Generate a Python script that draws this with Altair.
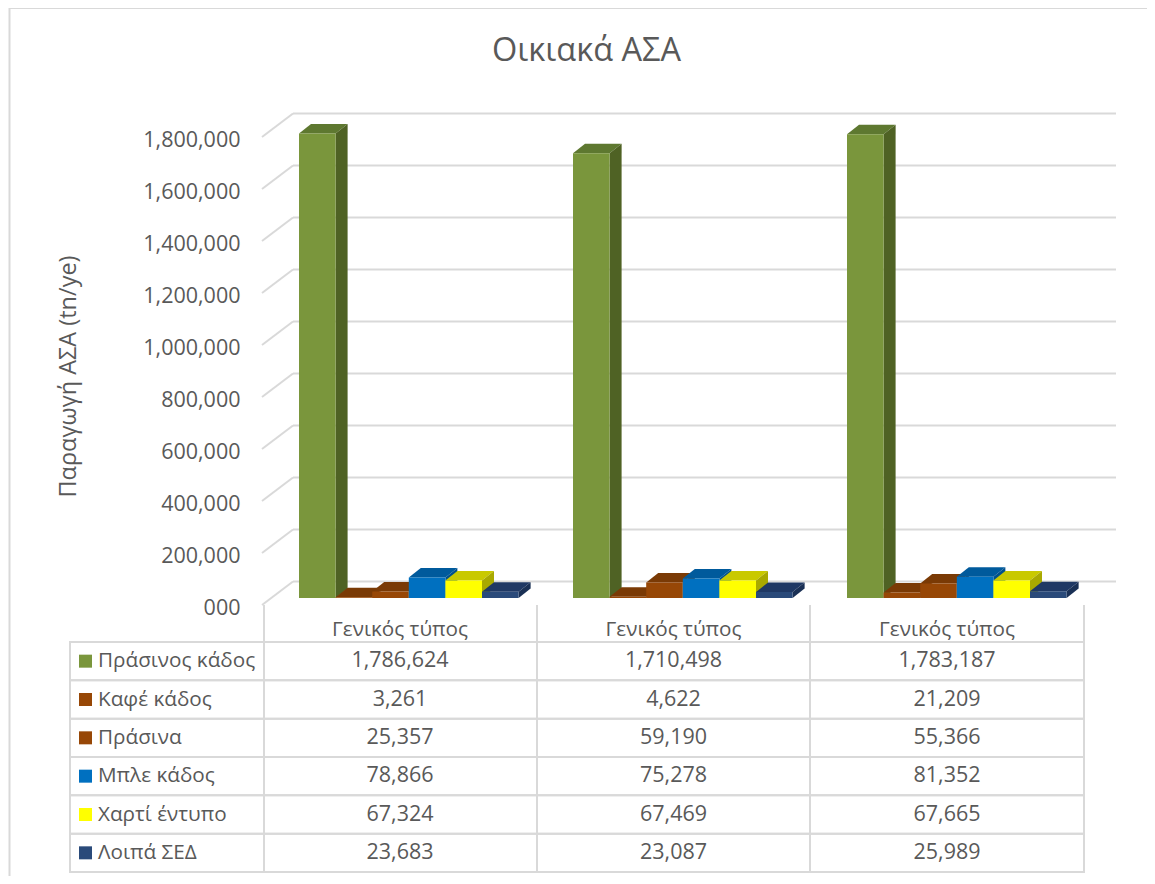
import altair as alt
import pandas as pd

# ---- chart values ----
TITLE = "Οικιακά ΑΣΑ"
Y_TITLE = "Παραγωγή ΑΣΑ (tn/ye)"
GROUPS = ["Γενικός τύπος", "Γενικός τύπος", "Γενικός τύπος"]
SERIES = ["Πράσινος κάδος", "Καφέ κάδος", "Πράσινα", "Μπλε κάδος", "Χαρτί έντυπο", "Λοιπά ΣΕΔ"]
S1 = [1786624, 1710498, 1783187]
S2 = [3261, 4622, 21209]
S3 = [25357, 59190, 55366]
S4 = [78866, 75278, 81352]
S5 = [67324, 67469, 67665]
S6 = [23683, 23087, 25989]
VALUES = [S1, S2, S3, S4, S5, S6]
Y_TICKS = [0, 200000, 400000, 600000, 800000, 1000000, 1200000, 1400000, 1600000, 1800000]
FRONT = ["#7a963c", "#974706", "#974706", "#0070c0", "#ffff00", "#2a4a7a"]
TOP = ["#5e7830", "#7a3a05", "#7a3a05", "#005a9c", "#c9c900", "#1f3864"]
SIDE = ["#4f6224", "#6a3204", "#6a3204", "#00508c", "#a9a900", "#1a3055"]
GRID = "#d9d9d9"
TEXT = "#595959"
FONT = "Open Sans"
FS = 20.7
NUM_FS = 21.5

# ---- scale set-up (plot coordinates are page minus 8px margin) ----
W, H = 1139, 868
UNIT = 36.6                        # one bar slot
GROUP_STEP = 274 / UNIT            # slots between groups
DX = 12 / UNIT                     # bar depth, in slots
PER_PX = 200000 / 52               # value units per pixel
DY = 9.5 * PER_PX                  # bar depth, in value units
BASE = 7 * PER_PX                  # bars stand this far behind the axis plane
WALL_DY = 23.5 * PER_PX
x_scale = alt.Scale(domain=[0, 1], range=[291, 291 + UNIT])
y_scale = alt.Scale(domain=[0, 1800000], range=[597, 597 - 1800000 / PER_PX])

front_rows, poly_rows = [], []
for g in range(3):
    for s, name in enumerate(SERIES):
        v = VALUES[s][g]
        x0 = g * GROUP_STEP + s
        x1 = x0 + 1
        front_rows.append(dict(series=name, group=g, value=v + BASE, x0=x0, x1=x1, base=BASE, fill=FRONT[s]))
        pid = f"{g}-{s}"
        u = v + BASE
        for x, t, b in [(x0, u, u), (x0 + DX, u + DY, u), (x1, u + DY, u), (x1 + DX, u + DY, u + DY)]:
            poly_rows.append(dict(poly=pid + "t", x=x, upper=t, lower=b, fill=TOP[s]))
        for x, t, b in [(x1, u, BASE), (x1 + DX, u + DY, BASE + DY)]:
            poly_rows.append(dict(poly=pid + "s", x=x, upper=t, lower=b, fill=SIDE[s]))
front = pd.DataFrame(front_rows)
polys = pd.DataFrame(poly_rows)

WALL_X0 = (262 - 299) / UNIT
WALL_X1 = (293 - 299) / UNIT
diag = pd.DataFrame(
    [dict(t=t, x=WALL_X0, y=t) for t in Y_TICKS] + [dict(t=t, x=WALL_X1, y=t + WALL_DY) for t in Y_TICKS]
)
ticks = pd.DataFrame({"t": Y_TICKS, "y": [t + WALL_DY for t in Y_TICKS]})

X = lambda f: alt.X(f, type="quantitative", scale=x_scale, axis=None)
Y = lambda f: alt.Y(f, type="quantitative", scale=y_scale, axis=None)
C = alt.Color("fill:N", scale=None)

y_axis = alt.Axis(
    values=Y_TICKS, grid=False, domain=False, ticks=False, offset=-232, labelPadding=0, labelOffset=3,
    labelFontSize=NUM_FS, labelFont=FONT, labelColor=TEXT,
    labelExpr="datum.value == 0 ? '000' : format(datum.value, ',')",
    title=Y_TITLE, titleFontSize=23.5, titleFont=FONT, titleColor=TEXT, titleFontWeight="normal",
    titleAngle=270, titleX=-172, titleY=368, titleAlign="center", titleBaseline="middle",
)
back_grid = alt.Chart(ticks).mark_rule(color=GRID, strokeWidth=2).encode(
    x=alt.value(285), x2=alt.value(1108),
    y=alt.Y("y:Q", scale=y_scale, axis=None),
)
wall = alt.Chart(diag).mark_line(color=GRID, strokeWidth=2).encode(x=X("x"), y=Y("y"), detail="t:N")
axis_layer = alt.Chart(pd.DataFrame({"t": Y_TICKS})).mark_point(opacity=0).encode(
    y=alt.Y("t:Q", scale=y_scale, axis=y_axis), x=alt.value(0)
)
faces = alt.Chart(polys).mark_area(opacity=1).encode(
    x=X("x"), y=Y("upper"), y2=alt.Y2("lower"), detail="poly:N", color=C,
)
bars = alt.Chart(front).mark_bar().encode(
    x=X("x0"), x2=alt.X2("x1"), y=Y("value"), y2=alt.Y2("base"), color=C,
)
plot = alt.layer(back_grid, wall, axis_layer, faces, bars).resolve_axis(y="independent")

# ---- data table under the plot ----
COLS = ["c1", "c2", "c3"]
col_scale = alt.Scale(type="point", domain=COLS, range=[392, 939], padding=0)
row_scale = alt.Scale(domain=SERIES, range=[634, 864], paddingInner=0, paddingOuter=0)
cells = pd.DataFrame(
    [dict(row=s, col=COLS[g], text=f"{VALUES[i][g]:,}") for i, s in enumerate(SERIES) for g in range(3)]
)
heads = pd.DataFrame({"col": COLS, "text": GROUPS})
rows = pd.DataFrame({"row": SERIES, "fill": FRONT})
verts = pd.DataFrame({"xp": [256, 529, 802, 1076]})

row_y = alt.Y("row:N", scale=row_scale, axis=None)
col_x = alt.X("col:N", scale=col_scale, axis=None)

row_boxes = alt.Chart(rows).mark_rect(fill=None, stroke=GRID, strokeWidth=2).encode(
    y=row_y, x=alt.value(62), x2=alt.value(1076)
)
vlines = alt.Chart(verts).mark_rule(color=GRID, strokeWidth=2).encode(
    x=alt.X("xp:Q", scale=alt.Scale(domain=[0, W], range=[0, W]), axis=None),
    y=alt.value(597), y2=alt.value(864),
)
swatches = alt.Chart(rows).mark_square(size=169, opacity=1).encode(y=row_y, x=alt.value(77.5), color=C)
row_labels = alt.Chart(rows).mark_text(align="left", font=FONT, fontSize=FS, color=TEXT).encode(
    y=row_y, x=alt.value(90), text="row:N"
)
cell_text = alt.Chart(cells).mark_text(font=FONT, fontSize=NUM_FS, color=TEXT).encode(y=row_y, x=col_x, text="text:N")
head_text = alt.Chart(heads).mark_text(font=FONT, fontSize=FS, color=TEXT).encode(
    y=alt.value(622), x=col_x, text="text:N"
)
table = alt.layer(row_boxes, vlines, swatches, row_labels, cell_text, head_text).resolve_scale(x="independent")

# ---- outer frame ----
frame_left = alt.Chart(pd.DataFrame({"a": [0]})).mark_rule(color=GRID, strokeWidth=2).encode(
    x=alt.value(1.5), y=alt.value(0), y2=alt.value(H)
)
frame_top = alt.Chart(pd.DataFrame({"a": [0]})).mark_rule(color=GRID, strokeWidth=2).encode(
    x=alt.value(1.5), x2=alt.value(W), y=alt.value(0)
)

chart = (
    alt.layer(frame_left, frame_top, plot, table)
    .resolve_scale(x="independent", y="independent", color="independent")
    .resolve_axis(y="independent")
    .properties(
        width=W, height=H, padding=0, autosize=alt.AutoSizeParams(type="none"),
        title=alt.TitleParams(TITLE, fontSize=32.5, font=FONT, fontWeight="normal", color=TEXT,
                              anchor="middle", dx=9, dy=64),
    )
    .configure_view(stroke=None)
)
chart.save("out.html", embed_options={"renderer": "svg", "actions": False})
